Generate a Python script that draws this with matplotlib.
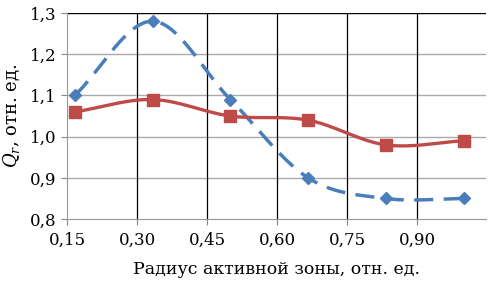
import numpy as np
import matplotlib
matplotlib.use('Agg')
import matplotlib.pyplot as plt

radius = [1/6, 2/6, 3/6, 4/6, 5/6, 1.0]
q_blue = [1.10, 1.28, 1.09, 0.90, 0.85, 0.85]
q_red = [1.06, 1.09, 1.05, 1.04, 0.98, 0.99]
xticks = [0.15, 0.30, 0.45, 0.60, 0.75, 0.90]
xticklabels = ['0,15', '0,30', '0,45', '0,60', '0,75', '0,90']
yticks = [0.8, 0.9, 1.0, 1.1, 1.2, 1.3]
yticklabels = ['0,8', '0,9', '1,0', '1,1', '1,2', '1,3']


def smooth(x, y, n=30):
    # catmull-rom style curve through the points, like Excel's smoothed line
    x = np.asarray(x); y = np.asarray(y)
    px = np.concatenate([[2*x[0]-x[1]], x, [2*x[-1]-x[-2]]])
    py = np.concatenate([[2*y[0]-y[1]], y, [2*y[-1]-y[-2]]])
    xs, ys = [], []
    t = np.linspace(0, 1, n)
    for i in range(1, len(px)-2):
        for p, out in ((px, xs), (py, ys)):
            p0, p1, p2, p3 = p[i-1], p[i], p[i+1], p[i+2]
            out.extend(0.5*((2*p1) + (-p0+p2)*t + (2*p0-5*p1+4*p2-p3)*t**2
                            + (-p0+3*p1-3*p2+p3)*t**3))
    return xs, ys


plt.rcParams['font.family'] = ['DejaVu Serif']
plt.rcParams['mathtext.fontset'] = 'dejavuserif'
fig = plt.figure(figsize=(4.93, 2.82), dpi=100)
ax = fig.add_axes([0.136, 0.223, 0.85, 0.731])

blue = '#4a7ebb'
red = '#be4b48'
sx, sy = smooth(radius, q_blue)
ax.plot(sx, sy, color=blue, lw=2.5, ls=(0, (5.5, 3)), zorder=3)
ax.plot(radius, q_blue, ls='none', marker='D', ms=6, color=blue, zorder=4)
sx, sy = smooth(radius, q_red)
ax.plot(sx, sy, color=red, lw=2.4, zorder=3)
ax.plot(radius, q_red, ls='none', marker='s', ms=8, color=red, zorder=4)

ax.set_xlim(0.15, 1.048)
ax.set_ylim(0.8, 1.3)
ax.set_xticks(xticks)
ax.set_xticklabels(xticklabels)
ax.set_yticks(yticks)
ax.set_yticklabels(yticklabels)
ax.tick_params(labelsize=12, length=4, color='#888888')
ax.tick_params(axis='x', pad=5)

for y in yticks[1:]:
    ax.axhline(y, color='#aaaaaa' if y < 1.3 else 'black', lw=1, zorder=1)
for x in xticks[1:]:
    ax.axvline(x, color='black', lw=0.9, zorder=1)

for s in ['right', 'top']:
    ax.spines[s].set_visible(False)
ax.spines['left'].set_color('#999999')
ax.spines['bottom'].set_color('#999999')

ax.set_xlabel('Радиус активной зоны, отн. ед.', fontsize=12.5, labelpad=9)
ax.set_ylabel('$Q_r$, отн. ед.', fontsize=13, labelpad=6)

fig.savefig('out.png', dpi=100)
